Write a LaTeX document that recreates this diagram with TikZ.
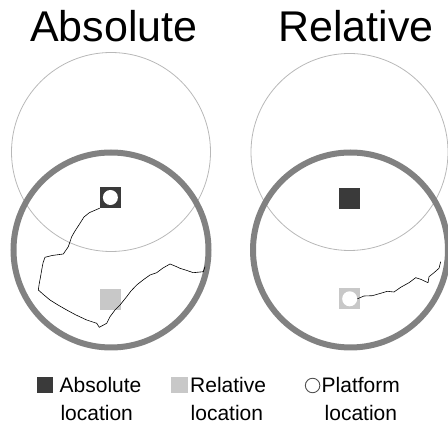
\documentclass[tikz,border=0pt]{standalone}
\usepackage{fontspec}
\setmainfont{Liberation Sans}
\definecolor{darksq}{HTML}{3A3A3A}
\definecolor{lightsq}{HTML}{C8C8C8}
\definecolor{thickring}{HTML}{818181}
\definecolor{thinring}{HTML}{B8B8B8}
\definecolor{platring}{HTML}{505050}
\tikzset{
  thinc/.style={draw=thinring, line width=0.8pt},
  thickc/.style={draw=thickring, line width=6pt},
  abssq/.style={fill=darksq, draw=none, minimum size=21pt, inner sep=0pt},
  relsq/.style={fill=lightsq, draw=none, minimum size=21pt, inner sep=0pt},
  platdot/.style={circle, fill=white, draw=none, minimum size=15pt, inner sep=0pt},
  traj/.style={draw=black, line width=0.6pt, line join=round},
  title/.style={font=\fontsize{43}{50}\selectfont, anchor=base west, inner sep=0pt},
  legtext/.style={font=\fontsize{21}{25}\selectfont, anchor=base west, inner sep=0pt},
  legsq/.style={minimum size=16.5pt, inner sep=0pt, draw=none}
}
\begin{document}
\begin{tikzpicture}[x=1pt,y=-1pt]
\useasboundingbox (0,0) rectangle (448,427);
\clip (0,0) rectangle (448,427);
% titles
\node[title] (tabs) at (30,41.5) {Absolute};
\node[title] (trel) at (278,41.5) {Relative};
% left panel
\node[thinc, circle, minimum size=199pt, inner sep=0pt] (lthin) at (111,152) {};
\node[thickc, circle, minimum size=195pt, inner sep=0pt] (lthick) at (111,250) {};
\node[abssq] (labs) at (110.4,197.5) {};
\node[platdot] (lplat) at (110.4,197.5) {};
\node[relsq] (lrel) at (110.5,299.5) {};
\draw[traj] (labs.south west) -- (89.3,212.7) -- (84,217) -- (80,223.3) -- (75,231) -- (71.7,236.7)
  -- (68.3,246.7) -- (63.3,254) -- (52,255.5) -- (45,257.3) -- (43,263) -- (41.7,270)
  -- (40.5,277) -- (39.3,283.3) -- (38.3,290) -- (44,295) -- (50,300) -- (58,305)
  -- (66.7,310) -- (76,315) -- (86.7,320) -- (96.7,323.3) -- (99.3,327.3)
  -- (106.7,323.3) -- (110,316.7) -- (115,310) -- (120,305) -- (126.7,296.7)
  -- (131,291) -- (136.7,285) -- (143,280) -- (150,275) -- (156.7,272.7)
  -- (163,268) -- (170,264) -- (175,266) -- (180,268.3) -- (187,270.5)
  -- (193.3,272.7) -- (203.3,271.7) -- (205,266.7);
% right panel
\node[thinc, circle, minimum size=197pt, inner sep=0pt] (rthin) at (349.5,152) {};
\node[thickc, circle, minimum size=195pt, inner sep=0pt] (rthick) at (350.5,250) {};
\node[abssq] (rabs) at (349.8,198.5) {};
\node[relsq] (rrel) at (349.7,298.8) {};
\node[platdot] (rplat) at (349.7,298.8) {};
\draw[traj] (rplat.east) -- (364,296) -- (372.3,295.7) -- (380.7,293.3) -- (387.3,291.3)
  -- (394,292) -- (400.7,287.3) -- (409,282.7) -- (415.7,277.7) -- (420.7,279.3)
  -- (428,282.7) -- (429,276.7) -- (434,272.7) -- (439,268.3) -- (440.7,261.7);
% legend
\node[legsq, fill=darksq] (kabs) at (45.2,385) {};
\node[legtext] (kabs1) at (59.5,392.7) {Absolute};
\node[legtext] (kabs2) at (60.3,421) {location};
\node[legsq, fill=lightsq] (krel) at (179.3,385) {};
\node[legtext] (krel1) at (190,392.7) {Relative};
\node[legtext] (krel2) at (190.5,421) {location};
\node[circle, draw=platring, line width=0.9pt, minimum size=14.5pt, inner sep=0pt] (kplat) at (312.6,385.5) {};
\node[legtext] (kplat1) at (321.5,392.7) {Platform};
\node[legtext] (kplat2) at (324.5,421) {location};
\end{tikzpicture}
\end{document}
